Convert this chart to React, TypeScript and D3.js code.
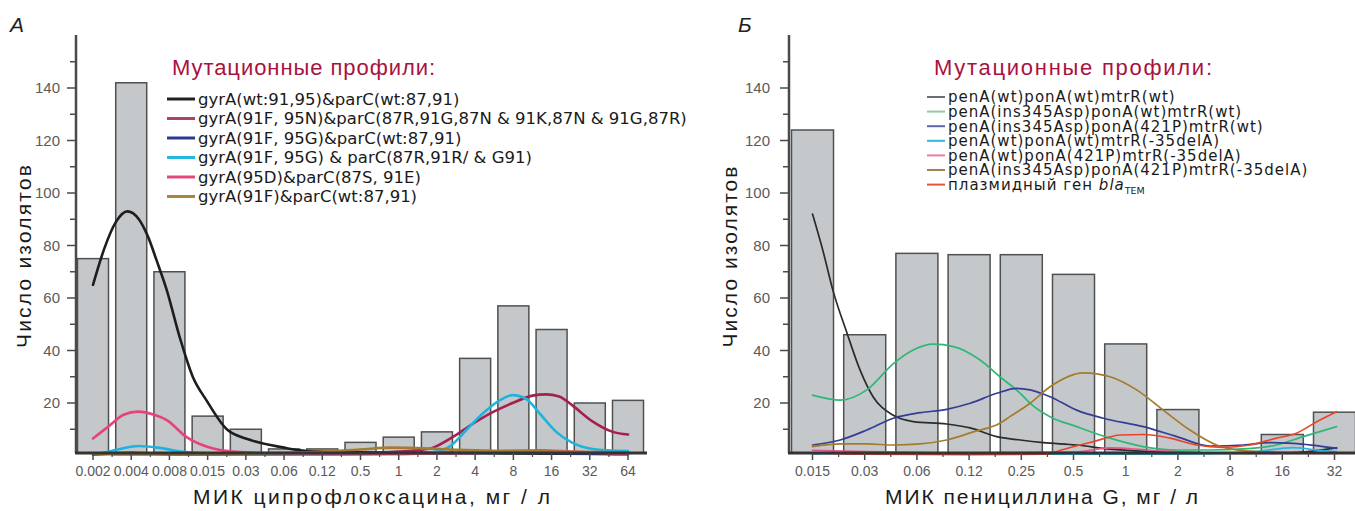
import React from 'react';
import * as d3 from 'd3';

// ---------- DATA ----------
const catsA = ['0.002', '0.004', '0.008', '0.015', '0.03', '0.06', '0.12', '0.5', '1', '2', '4', '8', '16', '32', '64'];
const barsA = [75, 142, 70, 15, 10, 2.5, 2.5, 5, 7, 9, 37, 57, 48, 20, 21];

const catsB = ['0.015', '0.03', '0.06', '0.12', '0.25', '0.5', '1', '2', '8', '16', '32'];
const barsB = [124, 46, 77, 76.5, 76.5, 69, 42.5, 17.5, 0, 8, 16.5];

const yMajor = [20, 40, 60, 80, 100, 120, 140];
const yMinor = [10, 30, 50, 70, 90, 110, 130, 150];

// curves: [category index, count]
const aWild: [number, number][] = [[0, 65], [0.3, 79], [0.6, 89], [0.9, 93], [1.2, 90], [1.45, 83], [1.66, 74.5], [1.93, 63], [2.27, 45], [2.61, 30], [2.97, 21], [3.5, 10], [4.1, 6], [5, 3], [5.4, 2], [6, 1.5], [7, 1.2], [9, 1], [11, 0.8], [14, 0.6]];
const aCrimson: [number, number][] = [[0.5, 0.5], [3, 0.5], [6, 0.6], [7, 0.8], [8, 1.5], [8.5, 2], [8.9, 3], [9.41, 7], [9.93, 12], [10.46, 16.5], [10.98, 20], [11.5, 22.8], [11.85, 23.3], [12.2, 22.5], [12.55, 19], [13.07, 13], [13.6, 9], [14, 8]];
const aNavy: [number, number][] = [[0, 0.3], [1, 1], [2, 0.5], [6, 0.5], [10, 1], [11, 1.5], [12, 1], [14, 0.5]];
const aCyan: [number, number][] = [[0.27, 1], [0.7, 2.5], [1.2, 3.6], [1.7, 3], [2.3, 1.5], [3, 0.8], [4, 0.5], [6, 0.3], [8, 0.5], [8.6, 0.8], [8.98, 1.5], [9.33, 3.4], [9.77, 9.7], [10.2, 16], [10.64, 21], [10.98, 23], [11.34, 21.5], [11.69, 16], [12.12, 9], [12.55, 4.8], [13.07, 2.5], [14, 1.7]];
const aPink: [number, number][] = [[0, 6.5], [0.4, 11], [0.8, 15.5], [1.18, 16.7], [1.6, 15.5], [1.93, 13.5], [2.45, 7], [2.97, 3.4], [3.66, 1.5], [5, 0.8], [8, 0.7], [10, 1], [11, 1.8], [11.7, 2], [12.5, 1.5], [13.5, 0.8], [14, 0.6]];
const aBrown: [number, number][] = [[0, 0.5], [3, 0.6], [5, 1], [6, 1.5], [7, 2.3], [7.8, 3], [8.5, 2.8], [9.5, 2.2], [10.5, 1.8], [12, 1.5], [14, 1.2]];

const bWild: [number, number][] = [[0, 92], [0.2, 78], [0.39, 63], [0.66, 46.7], [0.91, 32.6], [1.16, 22.4], [1.54, 15.4], [1.93, 12.9], [2.57, 12], [3.02, 10.5], [3.53, 7.2], [3.98, 5.9], [4.42, 4.9], [5.06, 4], [5.7, 2.4], [6.47, 1.5], [7.4, 1], [8.4, 0.8], [9.15, 1], [10.04, 2.9]];
const bGreen: [number, number][] = [[0, 23], [0.53, 21.1], [1.04, 25], [1.55, 35], [1.93, 40.2], [2.31, 42.4], [2.7, 41.5], [3.21, 36.4], [3.59, 30], [3.98, 23.7], [4.17, 19.9], [4.55, 14.8], [5.06, 11], [5.7, 6.6], [6.33, 3.4], [6.98, 2.1], [7.61, 2.1], [8.25, 2.5], [8.89, 4], [9.4, 7.2], [10.04, 11]];
const bNavy: [number, number][] = [[0, 4], [0.53, 5.9], [1.04, 9.7], [1.55, 14.2], [2.06, 16.3], [2.57, 17.6], [3.02, 19.9], [3.53, 23.7], [3.91, 25.6], [4.17, 25], [4.55, 22.4], [5.06, 17.3], [5.57, 14.2], [6.34, 11], [6.98, 7.2], [7.61, 3.6], [8.25, 4], [8.76, 4.9], [9.21, 4.6], [10.04, 2.7]];
const bCyan: [number, number][] = [[0, 0.5], [1, 0.9], [2, 0.9], [4, 0.5], [7, 0.5], [8.5, 1.5], [9.2, 3], [9.7, 2], [10.04, 1.5]];
const bPink: [number, number][] = [[0, 2], [1, 1.5], [3, 1], [5, 1.3], [5.7, 2.9], [6.5, 2], [7.5, 1], [9, 0.8], [10.04, 0.8]];
const bBrown: [number, number][] = [[0, 3.4], [0.53, 4.4], [1.04, 4.4], [1.55, 4], [2.06, 4.4], [2.57, 5.9], [3.08, 9], [3.59, 12.3], [3.78, 14.8], [4.17, 19.9], [4.55, 26.2], [5.19, 31.5], [5.7, 30], [6.21, 25], [6.72, 17.3], [7.23, 9.7], [7.74, 4], [8.13, 2.1], [8.63, 1.5], [9.5, 1], [10.04, 1]];
const bRed: [number, number][] = [[0, 1], [1, 0.5], [3, 0.3], [4.5, 0.5], [4.75, 2], [5.38, 5.3], [5.9, 7.8], [6.34, 8], [6.85, 6.6], [7.36, 4], [7.86, 3.1], [8.38, 4], [8.89, 6.6], [9.27, 8.5], [9.66, 12.9], [10.04, 16.7]];

const legendA = [
  'gyrA(wt:91,95)&parC(wt:87,91)',
  'gyrA(91F, 95N)&parC(87R,91G,87N & 91K,87N & 91G,87R)',
  'gyrA(91F, 95G)&parC(wt:87,91)',
  'gyrA(91F, 95G) & parC(87R,91R/ & G91)',
  'gyrA(95D)&parC(87S, 91E)',
  'gyrA(91F)&parC(wt:87,91)',
];
const legendB = [
  'penA(wt)ponA(wt)mtrR(wt)',
  'penA(ins345Asp)ponA(wt)mtrR(wt)',
  'penA(ins345Asp)ponA(421P)mtrR(wt)',
  'penA(wt)ponA(wt)mtrR(-35delA)',
  'penA(wt)ponA(421P)mtrR(-35delA)',
  'penA(ins345Asp)ponA(421P)mtrR(-35delA)',
  'плазмидный ген ',
];

const seriesA = [aWild, aCrimson, aNavy, aCyan, aPink, aBrown];
const colorsA = ['#1e1e1e', '#a3214f', '#283592', '#1fb4de', '#e6437c', '#a27b34'];
const legendColorsA = ['#222222', '#b0406a', '#2a3a92', '#22b8e2', '#e04a80', '#a8843f'];
const seriesB = [bWild, bGreen, bNavy, bCyan, bPink, bBrown, bRed];
const colorsB = ['#2b2b2b', '#2fb777', '#343d94', '#2fb3df', '#e0558a', '#a47b2c', '#e8442a'];
const legendColorsB = ['#6b6d75', '#8fcba8', '#5f68a5', '#3ab5de', '#e87fa0', '#a08552', '#e0583c'];

const TICK_FONT = '"Liberation Sans", Arial, sans-serif';
const TEXT_FONT = '"Liberation Sans", Arial, sans-serif';
const LEG_FONT = '"DejaVu Sans", sans-serif';

const yScale = d3.scaleLinear().domain([0, 160]).range([455.5, 35.5]);
const AXIS_Y = 453;

type PanelProps = {
  cats: string[];
  bars: number[];
  series: [number, number][][];
  colors: string[];
  axisX: number;
  axisRight: number;
  first: number;
  last: number;
  barW: number;
  curveW: number;
  labelGap: number;
};

function Panel(p: PanelProps) {
  const xp = d3.scalePoint<string>().domain(p.cats).range([p.first, p.last]);
  const xl = d3.scaleLinear().domain([0, p.cats.length - 1]).range([p.first, p.last]);
  const line = d3
    .line<[number, number]>()
    .x((d) => xl(d[0]))
    .y((d) => yScale(d[1]))
    .curve(d3.curveMonotoneX);
  const minorX = d3.range(p.cats.length + 1).map((i) => xl(i - 0.5)).filter((x) => x > p.axisX + 2 && x < p.axisRight);
  return (
    <g>
      {p.bars.map((v, i) =>
        v > 0 ? (
          <rect
            key={'b' + i}
            x={(xp(p.cats[i]) as number) - p.barW / 2}
            y={yScale(v)}
            width={p.barW}
            height={AXIS_Y - yScale(v)}
            fill="#c5c8cb"
            stroke="#505050"
            strokeWidth={1.5}
          />
        ) : null
      )}
      {p.series.map((s, i) => (
        <path key={'s' + i} d={line(s) || ''} fill="none" stroke={p.colors[i]} strokeWidth={p.curveW} strokeLinejoin="round" strokeLinecap="round" />
      ))}
      <line x1={p.axisX} x2={p.axisX} y1={35} y2={AXIS_Y} stroke="#4a4a4a" strokeWidth={2.5} />
      {yMajor.map((t) => (
        <g key={'ym' + t}>
          <line x1={p.axisX - 9} x2={p.axisX} y1={yScale(t)} y2={yScale(t)} stroke="#4a4a4a" strokeWidth={1.5} />
          <text x={p.axisX - p.labelGap} y={yScale(t)} dy="0.35em" textAnchor="end" fontFamily={TICK_FONT} fontSize={15} fill="#5a5a5a">
            {t}
          </text>
        </g>
      ))}
      {yMinor.map((t) => (
        <line key={'yn' + t} x1={p.axisX - 6} x2={p.axisX} y1={yScale(t)} y2={yScale(t)} stroke="#4a4a4a" strokeWidth={1.5} />
      ))}
      <line x1={p.axisX - 1} x2={p.axisRight} y1={AXIS_Y} y2={AXIS_Y} stroke="#333" strokeWidth={2.8} />
      {p.cats.map((c) => (
        <g key={'xt' + c}>
          <line x1={xp(c)} x2={xp(c)} y1={AXIS_Y} y2={AXIS_Y + 7} stroke="#4a4a4a" strokeWidth={1.5} />
          <text x={xp(c)} y={476} textAnchor="middle" fontFamily={TICK_FONT} fontSize={14} fill="#5a5a5a">
            {c}
          </text>
        </g>
      ))}
      {minorX.map((x, i) => (
        <line key={'xm' + i} x1={x} x2={x} y1={AXIS_Y} y2={AXIS_Y + 4} stroke="#4a4a4a" strokeWidth={1.2} />
      ))}
    </g>
  );
}

export default function App() {
  return (
    <svg
      width={1355}
      height={511}
      viewBox="0 0 1355 511"
      style={{ position: 'absolute', left: 0, top: 0, background: '#fff' }}
    >
      <rect x={0} y={0} width={1355} height={511} fill="#fff" />
      <Panel cats={catsA} bars={barsA} series={seriesA} colors={colorsA} axisX={76} axisRight={647} first={93} last={628} barW={31} curveW={2.6} labelGap={16} />
      <Panel cats={catsB} bars={barsB} series={seriesB} colors={colorsB} axisX={789} axisRight={1355} first={812.5} last={1334.5} barW={42} curveW={1.7} labelGap={19} />

      <text x={10} y={32} fontFamily={TEXT_FONT} fontStyle="italic" fontSize={21} fill="#222">А</text>
      <text x={738} y={32} fontFamily={TEXT_FONT} fontStyle="italic" fontSize={21} fill="#222">Б</text>

      <text transform="translate(31,256.5) rotate(-90)" textAnchor="middle" fontFamily={TEXT_FONT} fontSize={21} fill="#1a1a1a" textLength={183} lengthAdjust="spacing">
        Число изолятов
      </text>
      <text transform="translate(737,257) rotate(-90)" textAnchor="middle" fontFamily={TEXT_FONT} fontSize={21} fill="#1a1a1a" textLength={181} lengthAdjust="spacing">
        Число изолятов
      </text>
      <text x={193} y={504} fontFamily={TEXT_FONT} fontSize={21} fill="#1a1a1a" textLength={357} lengthAdjust="spacing">
        МИК ципрофлоксацина, мг / л
      </text>
      <text x={885} y={504} fontFamily={TEXT_FONT} fontSize={21} fill="#1a1a1a" textLength={313} lengthAdjust="spacing">
        МИК пенициллина G, мг / л
      </text>

      <text x={172} y={75} fontFamily={TEXT_FONT} fontSize={22} fill="#a8123f" textLength={263} lengthAdjust="spacing">
        Мутационные профили:
      </text>
      {legendA.map((t, i) => {
        const y = 99 + i * 19.5;
        return (
          <g key={'la' + i}>
            <line x1={167} x2={195} y1={y} y2={y} stroke={legendColorsA[i]} strokeWidth={3} />
            <text x={198} y={y} dy="0.36em" fontFamily={LEG_FONT} fontSize={16.5} fill="#1a1a1a">
              {t}
            </text>
          </g>
        );
      })}

      <text x={934} y={75} fontFamily={TEXT_FONT} fontSize={22} fill="#a8123f" textLength={278} lengthAdjust="spacing">
        Мутационные профили:
      </text>
      {legendB.map((t, i) => {
        const y = 97 + i * 14.6;
        return (
          <g key={'lb' + i}>
            <line x1={927} x2={945} y1={y} y2={y} stroke={legendColorsB[i]} strokeWidth={2} />
            <text x={948} y={y} dy="0.36em" fontFamily={LEG_FONT} fontSize={15} letterSpacing={1} fill="#1a1a1a">
              {t}
              {i === legendB.length - 1 ? (
                <>
                  <tspan fontStyle="italic">bla</tspan>
                  <tspan fontSize={9.5} dy={4} letterSpacing={0}>TEM</tspan>
                </>
              ) : null}
            </text>
          </g>
        );
      })}
    </svg>
  );
}
